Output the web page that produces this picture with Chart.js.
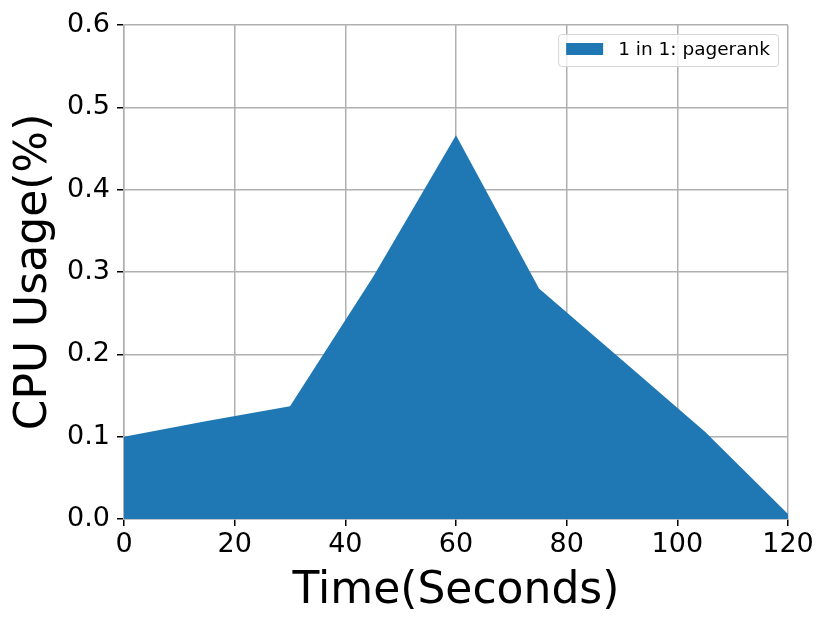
<!DOCTYPE html>
<html>
<head>
<meta charset="utf-8">
<script src="https://cdn.jsdelivr.net/npm/chart.js@4"></script>
<style>
  html, body { margin: 0; padding: 0; background: #fff; }
  #wrap { width: 830px; height: 625px; }
</style>
</head>
<body>
<div id="wrap"><canvas id="c" width="830" height="625"></canvas></div>
<script>
// data
const seconds = [0, 15, 30, 45, 60, 75, 90, 105, 120];
const cpuUsage = [0.100, 0.119, 0.137, 0.294, 0.466, 0.280, 0.193, 0.106, 0.006];
const seriesLabel = '1 in 1: pagerank';
const xTicks = [0, 20, 40, 60, 80, 100, 120];
const yTicks = [0.0, 0.1, 0.2, 0.3, 0.4, 0.5, 0.6];

const FONT = "'DejaVu Sans', sans-serif";
const BLUE = '#1f77b4';
const GRID = '#b0b0b0';

// legend box drawn inside the plot, top right (like matplotlib)
const boxLegend = {
    id: 'boxLegend',
    afterDraw(chart) {
        const { ctx, chartArea } = chart;
        const label = chart.data.datasets[0].label;
        ctx.save();
        ctx.font = `18.5px ${FONT}`;
        const tw = ctx.measureText(label).width;
        const w = 8 + 37 + 15 + tw + 8;
        const h = 32;
        const x = chartArea.right - 10 - w;
        const y = chartArea.top + 9;
        ctx.beginPath();
        ctx.roundRect(x + 0.5, y + 0.5, w, h, 3);
        ctx.fillStyle = 'rgba(255,255,255,0.8)';
        ctx.fill();
        ctx.strokeStyle = '#d4d4d4';
        ctx.lineWidth = 1;
        ctx.stroke();
        ctx.fillStyle = BLUE;
        ctx.fillRect(x + 8, y + 9, 37, 12);
        ctx.fillStyle = '#000';
        ctx.textBaseline = 'middle';
        ctx.fillText(label, x + 8 + 37 + 15, y + h / 2);
        ctx.restore();
    }
};

new Chart(document.getElementById('c'), {
    type: 'line',
    data: {
        datasets: [{
            label: seriesLabel,
            data: seconds.map((s, i) => ({ x: s, y: cpuUsage[i] })),
            backgroundColor: BLUE,
            borderColor: BLUE,
            borderWidth: 0,
            pointRadius: 0,
            tension: 0,
            fill: 'origin'
        }]
    },
    options: {
        responsive: false,
        animation: false,
        layout: { padding: { top: 25, right: 42, left: 0, bottom: 0 } },
        plugins: {
            legend: { display: false },
            tooltip: { enabled: false }
        },
        scales: {
            x: {
                type: 'linear',
                min: 0,
                max: 120,
                afterBuildTicks: (axis) => { axis.ticks = xTicks.map(v => ({ value: v })); },
                afterFit: (axis) => { axis.height = 625 - 519; },
                ticks: {
                    color: '#000',
                    font: { family: FONT, size: 27 },
                    padding: 3,
                    maxRotation: 0,
                    callback: (v) => String(v)
                },
                grid: { color: GRID, lineWidth: 1.5, tickColor: '#000', tickLength: 7, drawTicks: true },
                border: { display: true, color: GRID, width: 1.5 },
                title: {
                    display: true,
                    text: 'Time(Seconds)',
                    color: '#000',
                    font: { family: FONT, size: 44 },
                    padding: { top: 0, bottom: 7 }
                }
            },
            y: {
                min: 0,
                max: 0.6,
                afterBuildTicks: (axis) => { axis.ticks = yTicks.map(v => ({ value: v })); },
                afterFit: (axis) => { axis.width = 124; },
                ticks: {
                    color: '#000',
                    font: { family: FONT, size: 27 },
                    padding: 7,
                    callback: (v) => v.toFixed(1)
                },
                grid: { color: GRID, lineWidth: 1.5, tickColor: '#000', tickLength: 7, drawTicks: true },
                border: { display: true, color: GRID, width: 1.5 },
                title: {
                    display: true,
                    text: 'CPU Usage(%)',
                    color: '#000',
                    font: { family: FONT, size: 44 },
                    padding: { top: 8, bottom: 0 }
                }
            }
        }
    },
    plugins: [boxLegend]
});
</script>
</body>
</html>
